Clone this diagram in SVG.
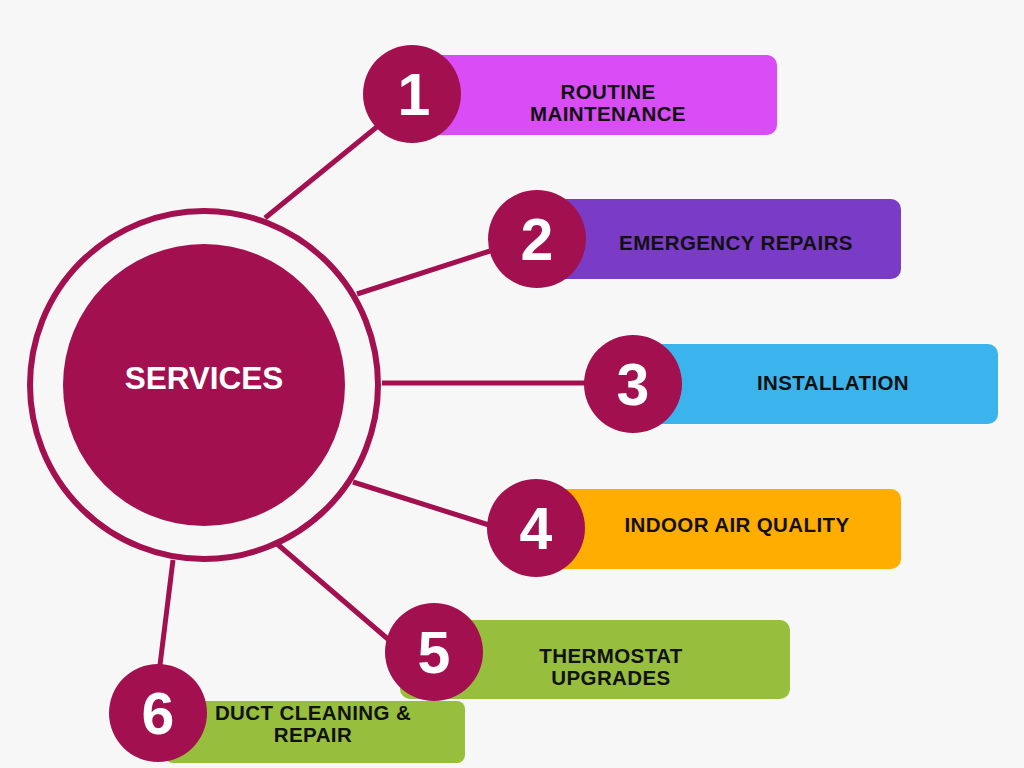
<svg xmlns="http://www.w3.org/2000/svg" width="1024" height="768" viewBox="0 0 1024 768">
  <style>
    .conn { stroke: #A3104F; stroke-width: 5; stroke-linecap: butt; fill: none; }
    .num { fill: #A3104F; }
    .numtxt { fill: #FFFFFF; font-family: "Liberation Sans", Arial, sans-serif; font-weight: bold; font-size: 59px; text-anchor: middle; }
    .lbl { fill: #111111; font-family: "Liberation Sans", Arial, sans-serif; font-weight: bold; font-size: 20.5px; text-anchor: middle; letter-spacing: 0.4px; }
  </style>
  <rect width="1024" height="768" fill="#F7F7F7"/>
  <g id="connectors">
    <line class="conn" x1="265" y1="218" x2="378" y2="126"/>
    <line class="conn" x1="357" y1="294" x2="490" y2="251"/>
    <line class="conn" x1="382" y1="383" x2="586" y2="383"/>
    <line class="conn" x1="353" y1="482" x2="489" y2="525"/>
    <line class="conn" x1="276" y1="543" x2="389" y2="640"/>
    <line class="conn" x1="173" y1="560" x2="160" y2="665"/>
  </g>
  <g id="center">
    <circle cx="204" cy="385" r="174" fill="none" stroke="#A3104F" stroke-width="6"/>
    <circle cx="204" cy="385" r="141" fill="#A3104F"/>
    <text x="204" y="389" fill="#FFFFFF" font-family="Liberation Sans, Arial, sans-serif" font-weight="bold" font-size="31.5" text-anchor="middle">SERVICES</text>
  </g>
  <g id="node1">
    <rect x="430" y="55" width="347" height="80" rx="10" fill="#D94CF6"/>
    <circle class="num" cx="412" cy="94" r="49"/>
    <text class="numtxt" x="414" y="115">1</text>
    <text class="lbl" x="608" y="99">ROUTINE</text>
    <text class="lbl" x="608" y="121">MAINTENANCE</text>
  </g>
  <g id="node2">
    <rect x="555" y="199" width="346" height="80" rx="10" fill="#7A3BC7"/>
    <circle class="num" cx="537" cy="239" r="49"/>
    <text class="numtxt" x="537" y="260">2</text>
    <text class="lbl" x="736" y="250">EMERGENCY REPAIRS</text>
  </g>
  <g id="node3">
    <rect x="650" y="344" width="348" height="80" rx="10" fill="#3BB4EE"/>
    <circle class="num" cx="633" cy="384" r="49"/>
    <text class="numtxt" x="633" y="405">3</text>
    <text class="lbl" x="833" y="390">INSTALLATION</text>
  </g>
  <g id="node4">
    <rect x="555" y="489" width="346" height="80" rx="10" fill="#FFAD00"/>
    <circle class="num" cx="536" cy="528" r="49"/>
    <text class="numtxt" x="536" y="549">4</text>
    <text class="lbl" x="737" y="532">INDOOR AIR QUALITY</text>
  </g>
  <g id="node5">
    <rect x="400" y="620" width="390" height="79" rx="10" fill="#97BE3C"/>
    <circle class="num" cx="434" cy="652" r="49"/>
    <text class="numtxt" x="434" y="673">5</text>
    <text class="lbl" x="611" y="663">THERMOSTAT</text>
    <text class="lbl" x="611" y="685">UPGRADES</text>
  </g>
  <g id="node6">
    <rect x="165" y="701" width="300" height="62" rx="8" fill="#97BE3C"/>
    <circle class="num" cx="158" cy="713" r="49"/>
    <text class="numtxt" x="158" y="734">6</text>
    <text class="lbl" x="313" y="720">DUCT CLEANING &amp;</text>
    <text class="lbl" x="313" y="742">REPAIR</text>
  </g>
</svg>
